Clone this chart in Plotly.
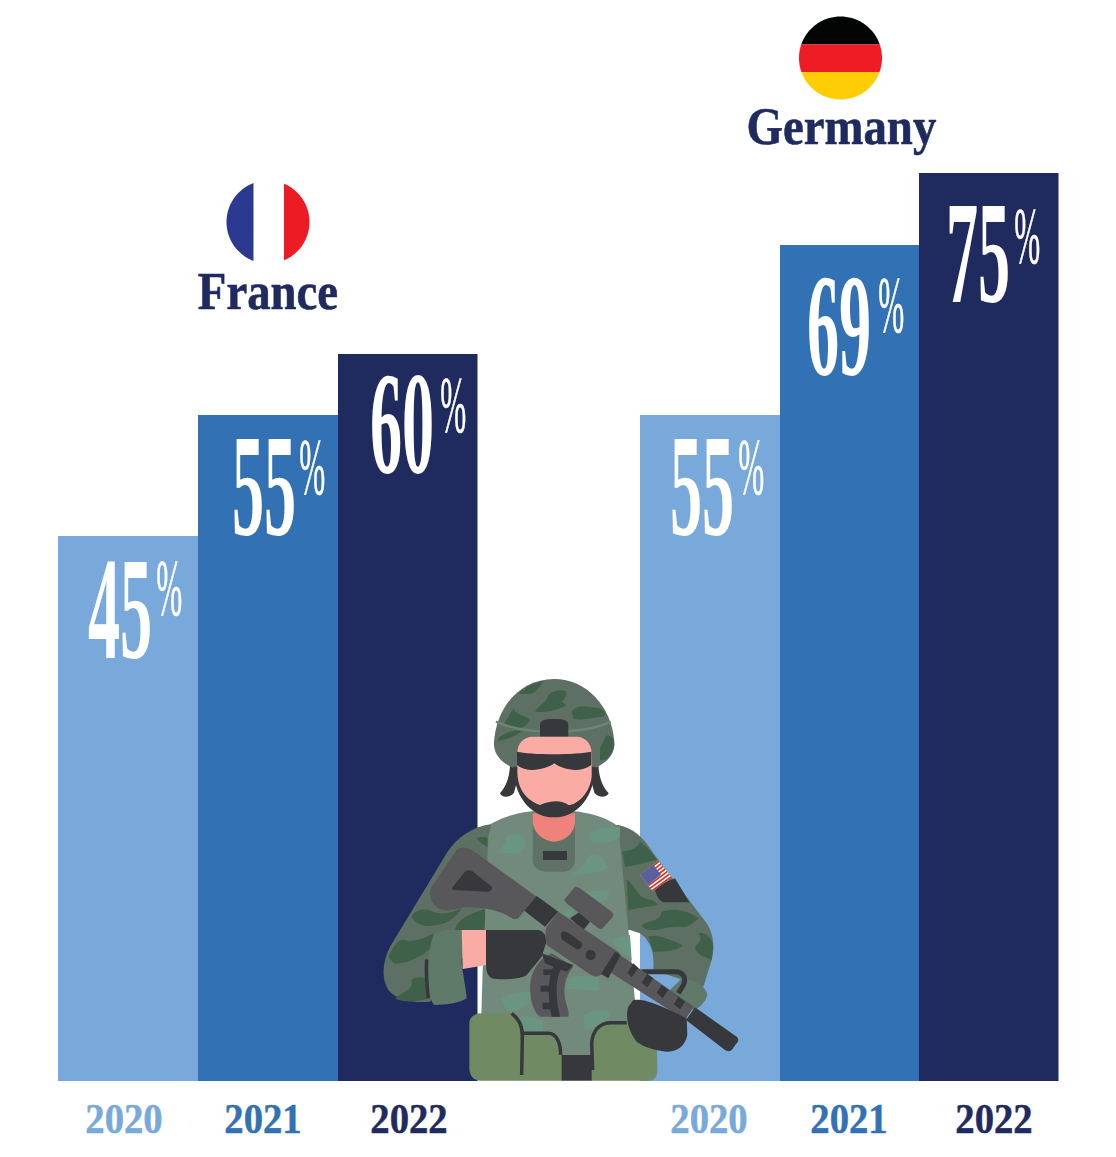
import re

import numpy as np
import plotly.graph_objects as go

W, H = 1116, 1157

years = ["2020", "2021", "2022"]
france_values = [45, 55, 60]
germany_values = [55, 69, 75]
bar_colors = ["#79A9DB", "#3371B5", "#1F2B5F"]
number_font = "Liberation Sans Narrow"
name_font = "Liberation Serif"

# label nudges in px from bar centre / bar top
num_dx = [[-8, -4, -5.5], [-8, -10, -10.5]]
num_dy = [[72.5, 71.5, 69.5], [71.5, 80.5, 80.5]]
pct_dx = [[42, 45, 46], [42, 42, 39]]
pct_dy = [[52, 52, 51], [52, 60, 63]]
year_dx = [[-4, -5, 1.5], [-0.5, 0, 5.5]]

GREEN = "#5D7063"
CAMO = "#3F6149"
TORSO = "#728A7B"
TORSO_CAMO = "#6A9580"
CUFF = "#5F7A68"
DARK = "#37383C"
GREY = "#58585A"
SKIN = "#FAACA4"
NECK = "#EF837C"
POUCH = "#708A63"


def zoom_path(path):
    # paths below are written in crop coords, starting at (370, 670), 3x
    nums = iter(range(10 ** 6))

    def conv(m):
        v = float(m.group())
        if next(nums) % 2 == 0:
            return f"{(370 + v / 3) / W:.5f}"
        return f"{1 - (670 + v / 3) / H:.5f}"

    return re.sub(r"-?\d+\.?\d*", conv, path)


def px_polygon(points):
    pts = [f"{x / W:.5f},{1 - y / H:.5f}" for x, y in points]
    return "M" + " L".join(pts) + " Z"


def shape(path, fill=None, line=None, width=0):
    return dict(
        type="path", xref="paper", yref="paper", path=path,
        fillcolor=fill if fill else "rgba(0,0,0,0)",
        line=dict(color=line if line else "rgba(0,0,0,0)", width=width),
        layer="above",
    )


def blob(path, fill):
    return shape(zoom_path(path), fill)


def stroke(path, color, width):
    return shape(zoom_path(path), None, color, width)


def flag_slice(cx, cy, r, axis, lo, hi, color):
    # part of a circle between two cut lines
    t = np.linspace(0, 2 * np.pi, 181)
    xs, ys = cx + r * np.cos(t), cy + r * np.sin(t)
    if axis == "x":
        xs = np.clip(xs, lo, hi)
    else:
        ys = np.clip(ys, lo, hi)
    return shape(px_polygon(list(zip(xs, ys))), color)


def us_flag():
    out = []
    tl, tr, br, bl = [np.array(p, float) for p in [(811, 615), (865, 572), (906, 622), (848, 664)]]
    to_px = lambda p: (370 + p[0] / 3, 670 + p[1] / 3)
    out.append(shape(px_polygon([to_px(p) for p in (tl, tr, br, bl)]), "#F4F0EE"))
    for i in range(7):
        a, b = i * 2 / 13, (i * 2 + 1) / 13
        quad = [tl + (bl - tl) * a, tr + (br - tr) * a, tr + (br - tr) * b, tl + (bl - tl) * b]
        out.append(shape(px_polygon([to_px(p) for p in quad]), "#C0392F"))
    canton = [tl, tl + (tr - tl) * 0.72, tl + (tr - tl) * 0.72 + (bl - tl) * 0.62, tl + (bl - tl) * 0.62]
    out.append(shape(px_polygon([to_px(p) for p in canton]), "#5A5F9E"))
    return out


def soldier():
    s = []
    # back straps
    s.append(blob("M 420 285 C 418 330 405 352 390 370 C 395 384 420 384 432 368 L 450 300 Z", DARK))
    s.append(blob("M 685 285 C 688 330 700 352 716 370 C 710 384 685 384 673 368 L 655 300 Z", DARK))
    # helmet
    s.append(blob("M 552 27 C 450 27 380 110 372 215 C 370 255 395 280 440 298 L 665 298 C 710 280 735 255 733 215 C 725 110 650 27 552 27 Z", GREEN))
    for p in [
        "M 445 72 C 470 45 500 40 520 33 C 505 55 495 75 470 72 Z",
        "M 495 125 C 510 100 530 100 535 75 C 550 60 590 55 590 70 C 585 95 565 95 590 105 C 570 120 520 130 495 125 Z",
        "M 605 125 C 625 100 650 110 690 115 C 705 125 710 130 700 140 C 670 140 630 155 610 145 Z",
        "M 400 165 L 430 115 C 440 140 470 135 480 150 C 470 170 450 180 420 175 Z",
        "M 385 205 C 420 175 445 185 465 180 C 440 195 410 210 385 212 Z",
        "M 690 240 C 690 225 705 215 705 200 C 715 190 733 200 733 225 C 730 250 710 275 690 270 Z",
    ]:
        s.append(blob(p, CAMO))
    s.append(stroke("M 378 155 C 420 175 470 185 552 185 C 620 185 680 175 722 155", "#6D8575", 2.5))
    s.append(blob("M 510 200 L 510 165 C 510 150 525 147 552 147 C 580 147 595 150 595 165 L 595 200 Z", DARK))
    # sleeves, closed well inside the torso so no gap shows along its edges
    s.append(blob("M 365 462 C 310 470 260 500 230 550 L 60 830 C 35 880 35 930 55 960 C 80 990 130 1000 180 995 L 340 780 L 420 780 L 420 470 Z", GREEN))
    s.append(blob("M 745 465 C 790 475 820 500 850 550 L 1010 760 C 1030 790 1035 830 1025 870 L 1000 950 L 850 900 C 855 850 840 810 810 790 L 780 780 L 700 780 L 700 465 Z", GREEN))
    s.append(blob("M 940 920 C 980 935 1010 950 1012 975 C 1005 1000 985 1015 970 1020 L 900 960 Z", CUFF))
    for p in [
        "M 320 505 C 335 500 345 500 352 505 L 352 530 C 340 525 325 515 320 505 Z",
        "M 125 740 C 140 715 165 715 190 725 C 220 735 240 730 275 715 C 260 745 220 770 170 768 C 150 765 130 755 125 740 Z",
        "M 255 780 C 260 750 300 730 345 718 L 345 780 Z",
        "M 55 860 C 70 830 85 805 105 810 C 125 820 165 805 190 790 L 185 830 C 160 860 100 885 70 880 Z",
        "M 75 985 C 100 965 130 960 125 930 C 135 920 155 920 170 925 L 175 985 C 150 995 100 1000 75 985 Z",
        "M 757 545 C 775 540 800 540 810 515 C 825 525 850 550 860 570 C 830 575 790 590 765 590 Z",
        "M 770 630 C 790 640 800 670 815 680 C 835 690 860 690 862 705 C 840 710 800 715 775 720 Z",
        "M 815 765 C 840 750 870 755 875 725 C 900 715 950 715 985 745 C 965 765 950 775 930 770 C 900 770 880 775 860 780 C 840 780 820 780 815 765 Z",
        "M 835 800 C 860 790 900 810 938 825 C 925 845 880 845 850 845 Z",
        "M 985 790 C 1005 785 1025 800 1030 830 L 1025 870 C 1000 860 975 850 975 830 C 985 820 1000 810 985 790 Z",
    ]:
        s.append(blob(p, CAMO))
    s.append(blob("M 855 650 L 915 625 L 958 697 L 880 697 C 865 690 855 670 855 650 Z", DARK))
    s += us_flag()
    # torso
    s.append(blob("M 365 460 C 420 430 480 420 552 420 C 640 420 710 440 745 470 L 785 880 L 810 1165 L 330 1165 L 338 900 L 345 750 L 355 500 Z", TORSO))
    for p in [
        "M 385 550 C 390 530 410 525 405 505 C 415 490 445 485 465 505 C 475 530 460 545 440 550 Z",
        "M 658 490 C 680 470 730 470 750 470 L 750 500 C 720 520 680 525 660 510 Z",
        "M 605 615 C 640 590 650 570 660 555 C 680 550 710 565 712 595 C 680 610 640 615 605 615 Z",
        "M 650 665 L 715 660 L 718 680 C 700 695 690 700 670 695 Z",
        "M 725 810 L 780 795 L 785 870 C 760 850 735 835 725 810 Z",
        "M 595 930 C 610 915 650 915 685 920 L 690 960 L 640 960 C 620 955 600 960 590 955 Z",
        "M 390 985 C 420 970 450 965 480 965 L 480 1000 C 450 1020 420 1030 410 1020 Z",
        "M 640 1035 C 670 1020 700 1015 720 1025 L 715 1050 C 690 1060 660 1080 645 1080 Z",
        "M 440 1045 C 470 1030 510 1040 520 1060 L 515 1085 L 460 1085 Z",
        "M 575 735 L 610 705 L 605 740 Z",
    ]:
        s.append(blob(p, TORSO_CAMO))
    # collar, neck, head
    s.append(blob("M 488 430 L 488 570 C 488 595 510 605 530 605 L 580 605 C 600 605 615 590 615 570 L 615 430 Z", "#5E7265"))
    s.append(blob("M 488 430 L 488 460 C 495 495 525 515 552 515 C 580 515 610 495 615 460 L 615 430 Z", NECK))
    s.append(blob("M 519 543 L 591 543 L 591 570 L 519 570 Z", DARK))
    s.append(blob("M 430 290 C 430 375 480 442 552 442 C 625 442 675 375 675 290 Z", DARK))
    s.append(blob("M 442 250 C 442 220 460 200 490 200 L 620 200 C 645 200 665 220 665 250 L 665 320 C 660 370 620 405 595 405 C 575 390 545 390 510 405 C 480 395 445 370 442 310 Z", SKIN))
    s.append(blob("M 441 245 C 480 255 620 255 664 245 L 664 285 C 630 310 580 300 553 280 C 525 300 470 310 441 285 Z", DARK))
    # pouches and belt
    s.append(blob("M 573 1155 L 670 1155 L 666 1232 L 573 1232 Z", DARK))
    s.append(blob("M 298 1060 C 298 1040 315 1030 335 1030 L 420 1028 C 445 1040 455 1060 455 1090 L 540 1090 C 560 1095 575 1120 575 1155 L 575 1232 L 330 1232 C 310 1232 298 1215 298 1195 Z", POUCH))
    s.append(blob("M 665 1232 L 665 1110 C 665 1075 690 1062 775 1060 L 860 1060 L 862 1205 C 862 1222 850 1232 835 1232 Z", POUCH))
    s.append(stroke("M 425 1030 C 450 1050 457 1070 457 1100 L 455 1215", DARK, 3.5))
    s.append(stroke("M 457 1090 L 535 1090 C 560 1090 572 1120 572 1155", DARK, 3.5))
    s.append(stroke("M 770 1058 L 720 1058 C 690 1060 668 1080 665 1120 L 668 1200", DARK, 3.5))
    # cuff, hand, glove
    s.append(blob("M 190 800 C 195 785 215 780 240 780 L 275 780 L 275 880 C 280 920 290 970 290 985 C 270 1000 220 1005 195 1005 C 180 1000 175 950 175 900 C 175 860 180 820 190 800 Z", CUFF))
    s.append(stroke("M 170 868 C 168 900 172 960 175 985", DARK, 3.5))
    s.append(blob("M 275 780 L 350 780 L 350 885 L 278 897 Z", SKIN))
    # magazine
    s.append(blob("M 520 865 C 490 890 475 930 482 975 C 485 1005 495 1030 510 1040 L 595 1040 C 600 1030 590 1010 585 985 C 580 950 585 920 610 890 L 545 850 Z", GREY))
    s.append(blob("M 555 880 C 535 915 530 970 545 1040 L 570 1040 C 555 970 555 920 580 885 Z", DARK))
    s.append(blob("M 520 898 L 550 898 L 550 915 L 520 915 Z", DARK))
    s.append(blob("M 512 947 L 540 947 L 540 965 L 512 965 Z", DARK))
    s.append(blob("M 518 998 L 545 998 L 545 1018 L 518 1018 Z", DARK))
    s.append(blob("M 515 850 L 610 885 L 590 905 L 525 880 Z", DARK))
    s.append(blob("M 348 780 L 505 780 C 525 785 530 800 528 820 L 515 860 L 470 915 C 450 930 380 930 365 925 C 350 915 348 900 348 880 Z", DARK))
    # rifle
    s.append(stroke("M 815 905 L 915 905 C 940 905 950 925 940 945 L 925 970", DARK, 5))
    s.append(blob("M 260 540 C 280 525 300 535 320 550 L 500 680 L 465 720 L 445 745 C 435 750 425 745 410 735 C 370 715 320 710 280 712 C 240 725 215 725 200 710 C 180 695 175 670 185 650 L 250 555 Z", GREY))
    s.append(blob("M 245 655 L 285 605 C 295 598 305 600 315 610 L 365 650 C 368 658 362 665 350 665 L 250 660 Z", DARK))
    s.append(blob("M 500 678 L 565 725 L 525 770 L 463 722 Z", DARK))
    s.append(blob("M 600 745 L 630 725 L 660 755 L 640 780 Z", DARK))
    s.append(blob("M 582 690 L 615 650 C 620 650 625 652 630 655 L 725 725 C 732 730 730 740 725 745 L 695 778 L 685 775 L 590 700 Z", GREY))
    s.append(blob("M 565 725 L 750 850 L 700 910 C 680 925 670 920 655 910 L 530 825 C 525 800 525 780 530 770 Z", GREY))
    s.append(blob("M 572 790 C 580 780 590 785 600 792 L 635 818 C 640 830 628 845 615 835 L 575 808 Z", DARK))
    s.append(blob("M 647 855 C 647 835 677 835 677 855 C 677 875 647 875 647 855 Z", DARK))
    s.append(blob("M 750 855 L 972 1010 L 945 1050 L 710 900 Z", GREY))
    s.append(blob("M 735 845 L 752 855 L 715 925 L 693 912 Z", DARK))
    for p in [
        "M 790 880 L 805 895 L 785 922 L 772 908 Z",
        "M 832 912 L 850 925 L 832 952 L 815 938 Z",
        "M 875 945 L 895 960 L 878 985 L 860 968 Z",
        "M 925 980 L 945 995 L 930 1018 L 912 1003 Z",
    ]:
        s.append(blob(p, DARK))
    s.append(blob("M 790 990 C 820 985 860 1000 950 1045 L 952 1095 C 945 1130 920 1145 890 1145 C 850 1140 820 1130 800 1115 C 775 1085 765 1040 775 1010 Z", DARK))
    s.append(blob("M 975 1012 L 1100 1100 C 1108 1108 1105 1115 1100 1120 L 1085 1140 C 1078 1146 1070 1143 1065 1140 L 948 1050 Z", DARK))
    return s


fig = go.Figure()
fig.add_trace(go.Bar(x=years, y=france_values, marker=dict(color=bar_colors, line=dict(width=0)), xaxis="x", yaxis="y", showlegend=False))
fig.add_trace(go.Bar(x=years, y=germany_values, marker=dict(color=bar_colors, line=dict(width=0)), xaxis="x2", yaxis="y", showlegend=False))

notes = []
for g, (values, xref) in enumerate([(france_values, "x"), (germany_values, "x2")]):
    for i, year in enumerate(years):
        # annotation x is the category index, "2020" would be read as a number
        notes.append(dict(
            x=i, y=values[i], xref=xref, yref="y", text=str(values[i]),
            xshift=num_dx[g][i], yshift=-num_dy[g][i], showarrow=False,
            font=dict(family=number_font, size=146, color="white", weight="bold"),
        ))
        notes.append(dict(
            x=i, y=values[i], xref=xref, yref="y", text="%",
            xshift=pct_dx[g][i], yshift=-pct_dy[g][i], showarrow=False,
            font=dict(family=number_font, size=80, color="white"),
        ))
        notes.append(dict(
            x=i, y=0, xref=xref, yref="y", text=year,
            xshift=year_dx[g][i], yshift=-37, showarrow=False,
            font=dict(family=name_font, size=43, color=bar_colors[i], weight="bold"),
        ))

notes.append(dict(x=268 / W, y=1 - 291 / H, xref="paper", yref="paper", text="France", showarrow=False,
                  xanchor="center", yanchor="middle",
                  font=dict(family=name_font, size=52, color="#1F2B5F", weight="bold")))
notes.append(dict(x=841 / W, y=1 - 126 / H, xref="paper", yref="paper", text="Germany", showarrow=False,
                  xanchor="center", yanchor="middle",
                  font=dict(family=name_font, size=52, color="#1F2B5F", weight="bold")))

flags = [
    flag_slice(268, 222, 41.5, "x", 220, 253.5, "#2B3990"),
    flag_slice(268, 222, 41.5, "x", 284, 320, "#ED1C24"),
    flag_slice(840.5, 58, 41.5, "y", 10, 44.5, "#030404"),
    flag_slice(840.5, 58, 41.5, "y", 44.5, 72, "#EF1C25"),
    flag_slice(840.5, 58, 41.5, "y", 72, 110, "#FFCD05"),
]

fig.update_layout(
    width=W, height=H,
    margin=dict(l=0, r=0, t=0, b=0),
    paper_bgcolor="white", plot_bgcolor="rgba(0,0,0,0)",
    bargap=0,
    xaxis=dict(domain=[58 / W, 477.5 / W], type="category", range=[-0.5, 2.5], showticklabels=False, showgrid=False, zeroline=False, ticks=""),
    xaxis2=dict(domain=[640 / W, 1058.5 / W], type="category", range=[-0.5, 2.5], showticklabels=False, showgrid=False, zeroline=False, ticks="", anchor="y"),
    yaxis=dict(domain=[(H - 1081) / H, 1], range=[0, 1081 / 12.11], visible=False, showgrid=False),
    annotations=notes,
    shapes=flags + soldier(),
)

# no condensed cut of these faces is installed, so squeeze the text sideways
squeeze = """
document.body.style.margin = '0';
document.body.style.overflow = 'hidden';
document.querySelectorAll('text.annotation-text').forEach(function (t) {
  var s = t.textContent, k = 1, w = 0;
  if (/^\\d\\d$/.test(s)) { k = 0.44; }
  else if (s === '%') { k = 0.39; w = 0.6; }
  else if (/^20/.test(s)) { k = 0.9; w = 0.5; }
  else { k = 0.9; w = 0.6; }
  t.style.transformBox = 'fill-box';
  t.style.transformOrigin = 'center';
  t.style.transform = 'scaleX(' + k + ')';
  if (w) { t.style.stroke = t.style.fill; t.style.strokeWidth = w + 'px'; }
});
"""

fig.write_html("out.html", post_script=squeeze, config=dict(displayModeBar=False))
